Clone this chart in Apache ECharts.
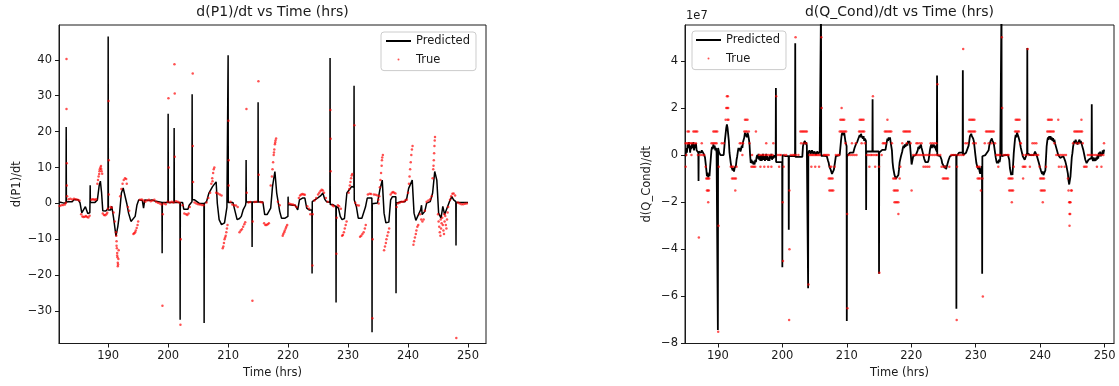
<!DOCTYPE html>
<html>
<head>
<meta charset="utf-8">
<script src="https://cdn.jsdelivr.net/npm/echarts@6.0.0/dist/echarts.min.js"></script>
<style>html,body{margin:0;padding:0;background:#fff;}#c{width:1119px;height:386px;}</style>
</head>
<body>
<div id="c"></div>
<script>
// ---------- tick labels ----------
const p1XTicks = [190, 200, 210, 220, 230, 240, 250];
const p1YTicks = [-30, -20, -10, 0, 10, 20, 30, 40];
const qXTicks = [190, 200, 210, 220, 230, 240, 250];
const qYTicks = [-8, -6, -4, -2, 0, 2, 4]; // in units of 1e7

// ---------- d(P1)/dt : predicted line [time, value] ----------
const p1Predicted = [
[181.8,0.4],[182.2,0.3],[182.6,0.1],[182.97,0.1],[183.0,21.3],[183.03,0.4],[183.4,0.5],[184.0,0.5],[184.3,1.1],[185.0,1.0],[185.3,0.2],[185.6,-2.6],[185.9,-2.5],[186.2,-0.9],[186.6,-2.8],[186.94,-2.6],[186.97,0.2],[187.0,5.1],[187.03,0.3],[187.8,0.3],[188.2,1.0],[188.5,5.0],[188.7,6.2],[188.9,3.0],[189.1,-2.0],[189.6,-2.1],[189.97,-1.5],[190.0,46.5],[190.03,-1.8],[190.4,-1.8],[190.6,-0.8],[190.9,-4.0],[191.3,-9.1],[191.6,-6.5],[191.9,-2.7],[192.2,2.9],[192.5,4.3],[192.8,4.7],[193.1,0.0],[193.4,-2.7],[193.8,-5.0],[194.1,-5.0],[194.5,-3.6],[194.8,-0.4],[195.1,1.0],[195.7,0.8],[195.9,-1.3],[196.1,1.0],[196.8,0.8],[197.3,1.0],[197.8,0.7],[198.4,0.5],[198.97,0.3],[199.0,-13.9],[199.03,0.3],[199.97,0.3],[200.0,25.0],[200.03,0.3],[200.97,0.3],[201.0,21.0],[201.03,0.3],[201.97,0.3],[202.0,-32.4],[202.03,0.3],[202.4,0.3],[202.6,-1.6],[203.3,-1.6],[203.5,-0.5],[203.97,0.5],[204.0,30.4],[204.03,1.0],[204.4,1.0],[204.8,0.5],[205.2,0.0],[205.97,0.0],[206.0,-33.3],[206.03,0.0],[206.4,0.5],[206.8,2.9],[207.4,4.7],[208.0,6.0],[208.2,0.0],[208.5,-4.5],[208.9,-5.9],[209.4,-5.4],[209.8,-1.0],[209.97,-0.8],[210.0,41.3],[210.03,0.3],[210.8,0.3],[211.1,-1.8],[211.5,-4.5],[211.9,-4.2],[212.2,-3.6],[212.5,-1.8],[212.9,-0.5],[212.97,0.3],[213.0,12.1],[213.03,0.4],[213.97,0.4],[214.0,-12.1],[214.03,0.4],[214.97,0.4],[215.0,28.2],[215.03,0.4],[215.8,0.4],[216.1,-3.1],[216.5,-3.1],[216.8,-2.7],[217.1,-1.3],[217.4,4.7],[217.8,8.9],[218.1,2.9],[218.6,-2.2],[218.9,-4.1],[219.5,-4.1],[219.97,-3.6],[220.0,1.9],[220.03,-0.3],[220.8,-0.5],[221.2,-0.5],[221.6,-1.8],[221.9,1.0],[222.4,1.5],[222.8,1.5],[223.1,-1.3],[223.5,-1.8],[223.97,-1.8],[224.0,-19.5],[224.03,0.5],[224.9,1.5],[225.4,2.1],[225.8,2.9],[226.1,1.2],[226.4,0.5],[226.97,0.3],[227.0,40.5],[227.03,-0.3],[227.4,-0.3],[227.97,-0.8],[228.0,-27.6],[228.03,-0.8],[228.4,-1.3],[228.7,-3.6],[229.0,-4.5],[229.4,-4.2],[229.8,2.9],[230.2,3.8],[230.6,4.7],[230.97,4.5],[231.0,32.8],[231.03,1.0],[231.4,-1.0],[231.7,-4.1],[232.3,-4.1],[232.6,-3.6],[232.9,-1.0],[233.2,1.5],[233.97,1.5],[234.0,-35.9],[234.03,-0.1],[234.9,0.1],[235.3,3.8],[235.7,6.5],[236.0,-2.7],[236.3,-5.4],[236.8,-5.2],[237.1,1.0],[237.4,1.9],[237.97,1.9],[238.0,-25.0],[238.03,0.1],[238.8,0.5],[239.5,0.5],[239.8,1.5],[240.1,4.2],[240.7,6.5],[241.0,-2.7],[241.3,-4.7],[241.6,-4.5],[242.1,-1.8],[242.25,-0.5],[242.35,-3.1],[242.8,-2.2],[243.1,0.1],[243.7,0.5],[244.1,2.9],[244.45,8.9],[244.8,6.5],[245.1,-2.7],[245.5,-4.1],[245.8,-0.8],[246.1,-3.1],[246.4,-2.7],[246.9,0.5],[247.3,1.9],[247.6,1.0],[247.97,0.5],[248.0,-11.7],[248.03,0.3],[249.0,0.3],[250.0,0.3]
];

// ---------- d(P1)/dt : true values [time, value] ----------
const p1True = [
[181.6,-0.6],[181.9,-0.7],[182.2,-0.5],[182.5,-0.4],[182.8,-0.3],[182.95,0.2],
[183.05,40.2],[183.05,26.3],[183.1,11.2],[183.1,5.0],[183.15,2.0],
[183.4,1.2],[183.7,1.3],[184.0,1.1],[184.3,1.3],[184.6,1.2],[184.9,1.0],[185.2,0.8],
[185.5,-3.0],[185.7,-3.6],[185.9,-3.8],[186.1,-3.7],[186.3,-3.5],[186.5,-3.8],[186.7,-3.9],[186.9,-3.4],
[187.2,1.0],[187.4,1.2],[187.6,1.1],[187.8,1.0],[188.0,1.2],
[188.2,5.5],[188.3,6.5],[188.4,7.5],[188.5,8.2],[188.55,9.0],[188.6,9.5],[188.7,10.0],[188.8,10.4],[188.85,9.6],[188.9,9.0],[189.0,8.3],
[189.1,-2.8],[189.3,-3.2],[189.5,-3.3],[189.7,-3.0],[189.85,-2.6],[189.95,-1.5],
[190.05,28.5],[190.1,12.0],[190.1,2.5],
[190.4,-1.0],[190.6,-1.2],[190.9,-2.5],[191.1,-5.0],
[191.3,-8.0],[191.35,-9.0],[191.4,-10.5],[191.4,-11.8],[191.45,-12.5],[191.5,-13.8],[191.5,-14.5],[191.55,-15.0],[191.6,-16.5],[191.6,-17.5],[191.65,-17.0],[191.7,-15.5],[191.75,-13.0],
[192.0,2.0],[192.2,4.0],[192.4,5.5],[192.6,6.5],[192.8,7.0],[193.0,6.8],[193.1,5.5],
[193.3,-1.0],[193.5,-2.0],
[194.2,-8.5],[194.35,-8.3],[194.5,-8.0],[194.6,-7.5],[194.75,-6.8],[194.9,-6.0],[195.0,-5.0],
[195.3,1.0],[195.6,1.1],[195.9,0.8],[196.2,0.5],[196.5,0.8],[196.8,1.0],[197.1,0.6],[197.4,0.8],[197.7,1.0],[198.0,0.4],[198.3,0.2],[198.6,0.0],[198.9,-0.3],
[199.05,-28.5],[199.1,-3.0],
[199.3,0.0],[199.6,-0.2],[199.9,0.5],[200.05,29.3],[200.1,10.0],[200.3,0.3],[200.6,0.5],[200.9,0.3],[201.05,38.8],[201.1,30.6],[201.1,13.0],[201.3,0.6],[201.6,0.5],[201.9,0.2],
[202.05,-33.8],[202.1,-10.0],
[202.4,-0.5],[202.7,-2.8],[203.0,-3.0],[203.2,-3.2],[203.4,-2.8],[203.6,-1.0],
[204.1,36.2],[204.1,16.0],[204.15,6.0],
[204.4,0.3],[204.7,0.0],[205.0,-0.2],[205.3,-0.3],[205.6,-0.4],[205.9,-0.5],
[206.4,0.3],[206.7,1.5],[207.0,3.0],[207.2,5.5],[207.35,7.0],[207.4,6.2],[207.5,8.5],[207.6,9.5],[207.7,10.0],
[208.0,3.0],[208.3,2.8],[208.6,2.5],[208.9,2.2],
[209.1,-12.5],[209.2,-12.0],[209.3,-11.0],[209.4,-10.0],[209.5,-9.5],[209.6,-9.0],[209.7,-8.0],[209.8,-7.0],[209.9,-6.0],
[210.05,23.0],[210.1,12.0],[210.1,5.0],
[210.4,0.5],[210.7,-0.3],[211.0,-0.5],[211.3,-0.6],[211.6,-1.0],
[211.9,-8.0],[212.1,-7.5],[212.3,-7.2],[212.5,-6.5],[212.7,-5.8],[212.85,-5.2],
[213.05,26.3],[213.1,3.0],
[213.4,0.3],[213.7,0.4],[214.05,-27.1],[214.1,-5.0],
[214.4,0.4],[214.7,0.5],[215.05,34.0],[215.1,8.0],
[215.4,0.4],[215.7,0.3],[216.0,-5.5],[216.2,-6.0],[216.4,-6.0],[216.6,-5.8],[216.8,-5.5],
[217.1,5.0],[217.3,7.5],[217.4,9.5],[217.5,11.5],[217.6,13.5],[217.65,14.2],[217.7,15.0],[217.8,16.5],[217.85,17.0],[217.9,17.5],[218.0,18.1],
[218.3,0.5],[218.6,-0.5],
[219.1,-9.0],[219.2,-8.5],[219.35,-8.0],[219.45,-7.5],[219.6,-7.0],[219.7,-6.5],[219.85,-6.0],
[220.2,0.0],[220.5,-0.2],[220.8,-0.3],[221.1,-0.5],[221.4,-1.0],
[221.8,1.5],[222.0,2.2],[222.2,2.5],[222.4,2.6],[222.6,2.5],[222.8,2.4],
[223.2,-0.8],[223.5,-1.5],[223.7,-3.0],
[224.05,-17.3],[224.1,-3.0],
[224.4,0.8],[224.7,1.5],[225.0,2.5],[225.2,3.0],[225.4,3.5],[225.6,3.8],[225.8,3.6],[226.0,3.0],[226.3,1.5],
[226.6,0.5],[227.05,26.0],[227.1,18.0],[227.1,9.0],
[227.4,-0.5],[227.6,-0.8],[228.05,-14.0],[228.1,-4.0],[228.3,-0.5],[228.5,-0.8],[228.8,-1.5],
[229.0,-9.0],[229.15,-8.8],[229.3,-8.0],[229.45,-7.0],[229.6,-6.0],[229.75,-5.0],
[230.1,3.0],[230.2,4.0],[230.3,5.0],[230.4,6.0],[230.5,7.0],[230.6,7.8],[230.7,8.2],[231.05,21.8],
[231.2,0.2],[231.5,-0.5],[231.8,-0.6],
[232.0,-9.3],[232.2,-9.0],[232.4,-8.5],[232.6,-8.0],[232.8,-7.0],[232.95,-6.0],
[233.3,2.5],[233.6,2.7],[233.85,2.6],
[234.05,-32.0],[234.1,-10.0],
[234.3,2.5],[234.6,2.4],[234.9,2.2],[235.05,1.0],
[235.1,0.0],[235.2,2.0],[235.3,4.5],[235.4,6.5],[235.5,8.5],[235.6,10.5],[235.65,12.0],[235.7,12.8],[235.8,13.5],
[236.0,-13.0],[236.15,-12.0],[236.3,-11.0],[236.4,-10.0],[236.55,-9.0],[236.7,-8.0],[236.85,-7.0],
[237.1,2.5],[237.3,3.0],[237.5,3.2],[237.7,3.0],[237.9,2.8],
[238.1,-1.0],[238.3,0.0],[238.6,0.2],[238.9,0.5],[239.2,0.5],[239.5,0.8],[239.8,1.0],
[240.0,3.0],[240.15,5.5],[240.25,7.5],[240.35,9.5],[240.45,11.5],[240.55,13.5],[240.65,15.0],[240.75,16.0],
[240.9,-11.5],[241.0,-10.5],[241.15,-9.5],[241.3,-8.5],[241.4,-7.5],[241.55,-6.5],[241.7,-6.0],
[242.0,-3.0],[242.2,-4.5],[242.4,-5.0],[242.6,-4.5],[242.8,-2.0],
[243.1,0.5],[243.4,0.8],[243.7,1.2],[243.95,2.0],
[244.1,7.0],[244.2,9.5],[244.25,10.5],[244.3,12.0],[244.35,14.0],[244.4,16.0],[244.45,17.5],[244.5,18.5],
[245.0,-3.0],[245.1,-5.0],[245.2,-6.5],[245.3,-8.0],[245.4,-9.0],[245.45,-4.5],[245.5,-7.0],[245.6,-5.5],[245.7,-4.0],[245.8,-6.0],[245.9,-7.5],[246.0,-8.5],[246.05,-3.0],[246.1,-5.0],[246.2,-3.5],[246.3,-6.0],[246.4,-7.0],[246.5,-4.5],[246.6,-2.5],[246.7,-1.0],
[247.0,1.0],[247.2,2.0],[247.4,2.7],[247.6,2.8],[247.85,2.2],
[248.05,-37.5],
[248.3,0.3],[248.6,0.0],[248.9,-0.2],[249.2,-0.2],[249.5,-0.1],[249.8,0.0]
];

// ---------- d(Q_Cond)/dt (units of 1e7) : predicted line ----------
const qPredicted = [
[185.0,-0.05],[185.1,0.3],[185.2,0.1],[185.3,0.45],[185.4,0.3],[185.5,0.55],[185.6,0.35],[185.7,0.1],[185.8,0.4],[185.9,0.25],[186.0,0.5],[186.1,0.3],[186.2,0.55],[186.3,0.2],[186.4,0.45],[186.5,0.3],[186.6,0.5],[186.7,0.2],[186.8,0.15],[186.97,0.1],[187.0,-1.1],[187.03,0.15],[187.2,0.1],[187.3,0.2],[187.4,0.1],[187.5,0.2],[187.6,0.15],[187.7,0.2],[187.8,0.05],[187.9,0.1],[188.0,-0.1],[188.1,-0.34],[188.2,-0.6],[188.3,-0.9],[188.4,-0.75],[188.5,-0.95],[188.6,-0.8],[188.7,-0.9],[188.8,-0.5],[189.0,0.2],[189.1,0.35],[189.2,0.25],[189.3,0.45],[189.4,0.3],[189.5,0.4],[189.6,0.2],[189.7,0.3],[189.8,0.1],[189.97,0.15],[190.0,-7.43],[190.03,0.3],[190.2,0.1],[190.4,0.0],[190.6,0.05],[190.9,0.0],[191.1,0.65],[191.2,0.9],[191.3,1.15],[191.4,1.3],[191.5,1.15],[191.6,1.1],[191.7,0.6],[191.8,0.1],[192.0,-0.34],[192.1,-0.5],[192.2,-0.45],[192.3,-0.65],[192.4,-0.55],[192.5,-0.7],[192.6,-0.55],[192.7,-0.6],[192.8,-0.45],[192.9,-0.2],[193.0,-0.05],[193.1,0.15],[193.2,0.3],[193.3,0.2],[193.4,0.3],[193.5,0.15],[193.6,0.25],[193.7,0.4],[193.8,0.3],[193.9,0.55],[194.0,0.6],[194.1,0.75],[194.2,0.95],[194.3,0.8],[194.4,0.9],[194.5,0.75],[194.6,0.95],[194.7,0.85],[194.8,0.7],[194.9,0.5],[195.0,0.0],[195.1,-0.34],[195.2,-0.2],[195.3,-0.35],[195.4,-0.25],[195.5,-0.4],[195.6,-0.3],[195.7,-0.4],[195.8,-0.2],[195.9,-0.3],[196.0,-0.1],[196.1,0.0],[196.2,-0.15],[196.3,0.05],[196.4,-0.2],[196.5,-0.05],[196.6,-0.25],[196.7,0.0],[196.8,-0.25],[196.9,-0.1],[197.0,0.05],[197.1,-0.2],[197.2,-0.05],[197.3,-0.25],[197.4,-0.1],[197.5,0.05],[197.6,-0.2],[197.7,-0.05],[197.8,-0.25],[197.9,-0.1],[198.0,-0.25],[198.1,0.0],[198.2,-0.15],[198.3,0.05],[198.4,-0.2],[198.5,-0.05],[198.6,-0.15],[198.7,0.0],[198.8,-0.1],[198.97,0.0],[199.0,2.85],[199.03,-0.3],[199.5,-0.3],[199.97,-0.3],[200.0,-4.76],[200.03,0.0],[200.5,-0.05],[200.97,-0.05],[201.0,-3.17],[201.03,-0.05],[201.5,-0.05],[201.97,-0.05],[202.0,4.75],[202.03,-0.08],[202.7,-0.08],[203.1,-0.08],[203.2,0.37],[203.3,0.5],[203.4,0.45],[203.5,0.6],[203.6,0.45],[203.7,0.55],[203.8,0.4],[203.97,0.4],[204.0,-5.65],[204.03,0.1],[204.2,0.2],[204.4,0.05],[204.6,0.2],[204.8,0.05],[205.0,0.15],[205.2,0.0],[205.4,0.15],[205.6,0.05],[205.8,0.15],[205.97,0.1],[206.0,6.5],[206.03,-0.03],[206.5,-0.03],[206.9,-0.05],[207.1,-0.25],[207.2,-0.34],[207.3,-0.5],[207.4,-0.45],[207.5,-0.62],[207.6,-0.7],[207.7,-0.8],[207.8,-0.83],[207.9,-0.75],[208.0,-0.62],[208.2,-0.25],[208.3,-0.05],[208.9,0.0],[209.0,0.3],[209.1,0.6],[209.2,0.85],[209.3,0.95],[209.4,1.0],[209.5,0.85],[209.6,0.95],[209.7,0.75],[209.8,0.55],[209.97,0.37],[210.0,-7.05],[210.03,-0.05],[210.5,0.1],[210.8,0.1],[211.0,0.1],[211.1,0.15],[211.2,0.3],[211.3,0.25],[211.4,0.45],[211.5,0.4],[211.6,0.55],[211.7,0.5],[211.8,0.7],[211.9,0.65],[212.0,0.85],[212.1,0.75],[212.2,0.9],[212.3,0.8],[212.4,0.85],[212.5,0.7],[212.6,0.8],[212.7,0.6],[212.8,0.7],[212.97,0.6],[213.0,-2.33],[213.03,0.15],[213.5,0.15],[213.97,0.15],[214.0,2.37],[214.03,0.15],[214.6,0.15],[214.97,0.15],[215.0,-5.04],[215.03,0.1],[215.5,0.22],[216.0,0.22],[216.1,0.3],[216.2,0.55],[216.3,0.7],[216.4,0.6],[216.5,0.75],[216.6,0.65],[216.7,0.75],[216.8,0.55],[216.9,0.6],[217.0,0.2],[217.1,-0.3],[217.2,-0.55],[217.3,-0.7],[217.4,-0.85],[217.5,-0.8],[217.6,-1.0],[217.7,-1.05],[217.8,-0.95],[217.9,-1.05],[218.0,-0.85],[218.1,-0.6],[218.2,-0.3],[218.4,-0.05],[218.6,0.15],[218.7,0.3],[218.8,0.4],[218.9,0.3],[219.0,0.45],[219.1,0.35],[219.2,0.4],[219.3,0.5],[219.4,0.4],[219.5,0.6],[219.6,0.5],[219.7,0.6],[219.8,0.45],[219.9,0.5],[220.05,-0.4],[220.1,-0.35],[220.3,-0.05],[220.7,0.0],[221.0,0.2],[221.1,0.35],[221.2,0.25],[221.3,0.4],[221.4,0.3],[221.5,0.45],[221.6,0.3],[221.7,0.2],[221.8,0.08],[222.0,-0.15],[222.1,-0.2],[222.2,-0.3],[222.3,-0.25],[222.4,-0.34],[222.5,-0.25],[222.6,-0.3],[222.7,-0.2],[222.9,0.22],[223.0,0.35],[223.1,0.45],[223.2,0.3],[223.3,0.45],[223.4,0.35],[223.5,0.45],[223.6,0.3],[223.7,0.4],[223.8,0.25],[223.97,0.15],[224.0,3.38],[224.03,0.0],[224.5,-0.05],[224.7,-0.2],[224.8,-0.35],[224.9,-0.3],[225.0,-0.45],[225.1,-0.4],[225.2,-0.55],[225.3,-0.45],[225.4,-0.6],[225.5,-0.5],[225.6,-0.45],[225.7,-0.3],[225.8,-0.2],[226.0,-0.05],[226.4,0.0],[226.97,0.0],[227.0,-6.52],[227.03,-0.05],[227.4,0.1],[227.97,0.1],[228.0,3.6],[228.03,0.0],[228.5,0.1],[228.7,0.1],[228.9,0.4],[229.0,0.6],[229.1,0.8],[229.2,0.75],[229.3,0.9],[229.4,0.8],[229.5,0.85],[229.6,0.7],[229.7,0.6],[229.8,0.37],[229.95,0.0],[230.1,-0.34],[230.2,-0.45],[230.3,-0.4],[230.4,-0.6],[230.5,-0.5],[230.6,-0.7],[230.7,-0.8],[230.8,-0.6],[230.97,-0.48],[231.0,-5.04],[231.03,-0.05],[231.5,0.0],[231.8,0.0],[232.0,0.2],[232.1,0.4],[232.2,0.5],[232.3,0.6],[232.4,0.55],[232.5,0.7],[232.6,0.6],[232.7,0.65],[232.8,0.5],[232.9,0.45],[233.0,0.1],[233.1,-0.1],[233.2,-0.25],[233.3,-0.35],[233.4,-0.25],[233.5,-0.35],[233.6,-0.2],[233.7,-0.3],[233.8,-0.15],[233.97,-0.2],[234.0,6.5],[234.03,-0.05],[234.5,0.0],[235.0,0.0],[235.2,-0.2],[235.3,-0.55],[235.4,-0.7],[235.5,-0.85],[235.6,-0.75],[235.7,-0.85],[235.8,-0.4],[235.9,0.08],[236.0,0.4],[236.1,0.7],[236.2,0.85],[236.3,0.75],[236.4,0.95],[236.5,0.9],[236.6,0.8],[236.7,0.85],[236.8,0.6],[236.9,0.45],[237.0,0.3],[237.3,-0.05],[237.6,-0.2],[237.97,0.08],[238.0,4.54],[238.03,0.08],[238.4,0.0],[239.0,0.0],[239.2,0.15],[239.5,-0.05],[239.8,-0.34],[239.9,-0.4],[240.0,-0.55],[240.1,-0.65],[240.2,-0.6],[240.3,-0.8],[240.4,-0.7],[240.5,-0.85],[240.6,-0.8],[240.7,-0.9],[240.8,-0.65],[241.0,0.37],[241.1,0.6],[241.2,0.75],[241.3,0.65],[241.4,0.8],[241.5,0.7],[241.6,0.8],[241.7,0.65],[241.8,0.75],[241.9,0.6],[242.0,0.72],[242.1,0.55],[242.2,0.65],[242.3,0.5],[242.4,0.4],[242.5,0.37],[242.8,0.0],[243.1,-0.12],[243.4,-0.12],[243.6,-0.05],[243.9,-0.27],[244.0,-0.35],[244.1,-0.5],[244.2,-0.65],[244.3,-0.8],[244.4,-1.1],[244.5,-1.25],[244.6,-1.2],[244.7,-0.9],[244.8,-0.5],[244.9,-0.1],[245.0,0.08],[245.1,0.35],[245.2,0.5],[245.3,0.6],[245.4,0.5],[245.5,0.65],[245.6,0.55],[245.7,0.6],[245.8,0.45],[245.9,0.55],[246.0,0.6],[246.1,0.65],[246.2,0.5],[246.3,0.6],[246.4,0.5],[246.5,0.4],[246.6,0.3],[246.7,0.2],[247.0,-0.2],[247.2,-0.34],[247.5,-0.2],[247.97,-0.12],[248.0,2.16],[248.03,-0.12],[248.2,-0.25],[248.3,-0.1],[248.4,-0.25],[248.5,-0.15],[248.6,-0.25],[248.7,-0.1],[248.8,-0.2],[248.9,0.0],[249.0,-0.15],[249.1,0.1],[249.2,-0.05],[249.3,0.15],[249.4,-0.05],[249.5,0.1],[249.6,0.0],[249.7,0.2],[249.8,0.05],[249.9,0.2],[250.0,0.22]
];

// ---------- d(Q_Cond)/dt (units of 1e7) : true values ----------
const qTrue = [
[185.0,0.5],[185.2,0.5],[185.4,0.5],[185.6,0.5],[185.8,0.5],[186.0,0.5],[186.3,0.5],[186.6,0.5],
[185.3,1.0],[185.5,1.0],[186.2,1.0],[186.4,1.0],[186.6,1.0],[186.8,1.0],
[185.1,0],[185.9,0],[186.9,0],[185.0,-0.5],
[187.05,-3.5],
[187.3,0],[187.6,0],[187.9,0],[187.5,0.5],
[188.1,-0.5],[188.2,-1.0],[188.35,-1.0],[188.5,-1.0],[188.3,-1.5],[188.45,-1.5],[188.6,-1.5],[188.5,-2.0],[188.65,-1.0],
[189.0,0.5],[189.2,0.5],[189.4,0.5],[189.6,0.5],[189.8,0.5],[189.3,1.0],[189.5,1.0],[189.7,1.0],[189.9,1.0],
[190.05,-7.5],[190.1,-3.0],[190.15,-0.5],
[190.6,0.5],[190.9,0.5],[191.2,1.5],[191.3,2.0],[191.45,2.0],[191.4,2.5],[191.55,2.5],[191.5,1.5],[191.65,1.5],[191.6,2.0],
[192.0,-0.5],[192.2,-0.5],[192.4,-0.5],[192.2,-1.0],[192.4,-1.0],[192.6,-1.0],[192.8,-1.0],[192.7,-1.5],[192.9,-0.5],
[193.4,0.5],[193.6,0.5],[193.9,0.5],[193.8,0],[194.1,1.0],[194.3,1.0],[194.5,1.0],[194.8,1.0],[194.2,1.5],[194.4,1.5],[194.6,1.5],[194.9,0.5],
[195.2,-0.5],[195.4,-0.5],[195.6,-0.5],[195.8,-0.5],[195.3,0],[195.9,1.0],
[196.4,0],[196.7,0],[197.0,0],[197.3,0],[197.6,0],[197.9,0],[198.2,0],[198.5,0],[196.6,-0.5],[197.2,-0.5],[197.8,-0.5],[198.3,-0.5],[198.6,0.5],[197.5,0.5],
[199.05,2.5],[199.3,0],[199.6,0],[199.5,-0.5],[199.8,0],
[200.05,-2.0],[200.1,-4.5],[200.3,0],[200.6,0],[200.2,-0.5],
[201.1,-4.0],[201.05,-7.0],[201.1,-1.5],[201.3,0],[201.6,0],[201.8,0],
[202.05,5.0],[202.1,0],
[202.8,1.0],[203.0,1.0],[203.2,1.0],[203.4,1.0],[203.6,1.0],[203.8,1.0],[202.9,0.5],[203.3,0.5],[203.7,0.5],[202.5,0],
[204.05,-5.5],[204.2,0],
[204.4,0],[204.6,0],[204.8,0],[205.0,0],[205.2,0],[205.4,0],[205.6,0],[205.8,0],[204.5,-0.5],[205.1,-0.5],[205.7,-0.5],
[206.05,5.0],[206.1,2.0],
[206.4,0],[206.6,0],[206.8,0],[207.0,0],[207.2,0],[207.4,-0.5],[207.6,-0.5],[207.2,-1.0],[207.4,-1.0],[207.6,-1.0],[207.8,-1.0],[207.3,-1.5],[207.5,-1.5],[207.7,-1.5],[207.9,-1.5],[208.1,-0.5],[208.3,0],[208.6,0],[208.8,0],
[209.2,2.0],[209.0,1.5],[209.2,1.5],[209.4,1.5],[209.6,1.5],[208.9,1.0],[209.1,1.0],[209.3,1.0],[209.5,1.0],[209.7,1.0],[209.9,1.0],[209.8,0.5],
[210.1,-6.5],[210.05,-2.5],[210.3,0],
[210.6,0],[210.9,0],[211.2,0],[211.5,0],[210.8,0.5],[211.4,0.5],
[211.9,1.0],[212.1,1.0],[212.3,1.0],[212.5,1.0],[212.7,1.0],[212.0,1.5],[212.2,1.5],[212.4,1.5],[212.6,1.5],[212.3,0.5],[212.8,0.5],
[213.1,0],[213.4,0],[213.7,0],[213.9,0],[214.2,0],[214.5,0],[214.7,0],[213.5,-0.5],[214.4,-0.5],
[214.05,2.5],[215.05,-5.0],[215.0,-0.5],
[215.4,0],[215.6,0.5],[215.9,1.0],[216.1,1.0],[216.3,1.0],[216.5,1.0],[216.7,1.0],[216.9,1.0],[216.3,1.5],[215.8,0.5],[216.0,0.5],[217.0,0.5],
[217.2,-1.0],[217.4,-1.0],[217.6,-1.0],[217.3,-1.5],[217.5,-1.5],[217.7,-1.5],[217.9,-1.5],[217.4,-2.0],[217.6,-2.0],[217.8,-2.0],[218.0,-2.0],[218.0,-2.5],[218.2,-1.0],[218.3,-0.5],
[218.6,0.5],[218.8,1.0],[219.0,1.0],[219.2,1.0],[219.4,1.0],[219.6,1.0],[219.8,1.0],[219.3,0.5],[219.9,0.5],
[220.05,-1.5],
[220.3,0],[220.6,0],[220.9,0],[221.2,0],[221.5,0],[221.8,0],[222.1,0],[222.4,0],[222.7,0],[223.0,0],[223.3,0],[223.6,0],[223.9,0],[220.8,0.5],[221.0,0.5],[221.3,0.5],[221.6,0.5],[221.9,-0.5],[222.2,-0.5],[222.5,-0.5],[222.8,-0.5],[223.0,0.5],[223.3,0.5],[223.6,0.5],[223.9,0.5],
[224.05,3.0],[224.2,0],
[224.5,0],[224.7,-0.5],[225.0,-0.5],[225.3,-0.5],[224.9,-1.0],[225.1,-1.0],[225.3,-1.0],[225.5,-1.0],[225.7,-1.0],[225.9,-0.5],[226.2,0],
[227.05,-7.0],[227.1,-0.5],
[226.5,0],[226.8,0],[227.2,0],[227.5,0],[227.8,0],
[228.05,4.5],[228.1,0],
[228.4,0.5],[228.7,0.5],[228.9,1.0],[229.1,1.0],[229.3,1.0],[229.5,1.0],[229.7,1.0],[229.9,1.0],[229.0,1.5],[229.2,1.5],[229.4,1.5],[229.6,1.5],[229.8,1.5],[229.6,0.5],[230.0,0.5],
[230.2,-0.5],[230.4,-0.5],[230.6,-0.5],[230.3,-1.0],[230.5,-1.0],[230.7,-1.0],[230.8,-1.5],
[231.1,-6.0],[231.05,-1.0],
[231.4,0.5],[231.6,1.0],[231.8,1.0],[232.0,1.0],[232.2,1.0],[232.4,1.0],[232.6,1.0],[232.8,1.0],[232.0,0.5],[232.5,0.5],[233.0,0.5],
[233.2,0],[233.4,0],[233.6,0],[233.8,0],[233.5,-0.5],
[234.05,5.0],[234.1,2.0],
[234.3,0],[234.6,0],[234.9,0],[235.1,0],
[235.1,-1.0],[235.3,-1.0],[235.5,-1.0],[235.7,-1.0],[235.2,-1.5],[235.4,-1.5],[235.6,-1.5],[235.8,-1.5],[235.6,-2.0],[235.9,-0.5],
[236.1,1.0],[236.2,1.5],[236.4,1.5],[236.6,1.5],[236.8,1.5],[236.3,1.0],[236.5,1.0],[236.7,1.0],[236.9,0.5],[237.0,0.5],
[237.3,-0.5],[237.5,-0.5],[237.7,-0.5],[237.4,0],[237.8,0],[237.35,-1.0],[238.05,4.5],[238.2,0],[238.4,-0.5],
[238.6,0],[238.9,0],[239.2,0],[239.5,0],[238.8,0.5],[239.1,0.5],[239.4,0.5],[239.7,0],
[239.9,-0.5],[240.0,-1.0],[240.2,-1.0],[240.4,-1.0],[240.6,-1.0],[240.1,-1.5],[240.3,-1.5],[240.5,-1.5],[240.7,-1.5],[240.4,-2.0],[240.9,-0.5],
[241.1,1.0],[241.3,1.0],[241.5,1.0],[241.7,1.0],[241.9,1.0],[242.1,1.0],[241.2,1.5],[241.4,1.5],[241.6,1.5],[241.8,1.5],[242.2,0.5],
[242.8,1.5],
[242.5,0],[242.8,0],[243.1,0],[243.4,0],[243.7,0],[244.0,0],[242.9,-0.5],[243.3,-0.5],[243.8,-0.5],
[244.3,-1.0],[244.4,-1.5],[244.5,-2.0],[244.6,-2.0],[244.7,-2.0],[244.55,-2.5],[244.65,-2.5],[244.55,-3.0],[244.8,-1.5],[244.9,-1.5],
[245.1,0.5],[245.3,1.0],[245.5,1.0],[245.7,1.0],[245.9,1.0],[246.1,1.0],[246.3,1.0],[246.5,1.0],[246.4,1.5],[245.6,0.5],[246.0,0.5],[246.6,0.5],
[246.8,-0.5],[247.0,-0.5],[247.2,-0.5],[247.4,0],[247.7,0],[248.0,0],
[248.3,0],[248.6,0],[248.9,0],[249.2,0],[249.5,0],[249.8,0],[249.5,-0.5],[248.8,-0.5],[249.9,0.5]
];

// ---------- chart ----------
const FONT = 'DejaVu Sans';
const INK = '#1a1a1a';
const fmt = v => (v < 0 ? '\u2212' + Math.abs(v) : String(v));

function xAxisFor(gridIndex, min, max, ticks) {
  return {
    type: 'value', gridIndex, min, max,
    name: 'Time (hrs)', nameLocation: 'middle', nameGap: 23,
    nameTextStyle: { fontSize: 11.5, color: INK, fontFamily: FONT },
    axisLine: { show: true, onZero: false, lineStyle: { color: INK, width: 1 } },
    axisTick: { show: true, length: 4, lineStyle: { color: INK }, customValues: ticks },
    axisLabel: { fontSize: 11.5, color: INK, fontFamily: FONT, margin: 7, formatter: fmt, customValues: ticks },
    splitLine: { show: false }
  };
}
function yAxisFor(gridIndex, min, max, ticks, name, gap) {
  return {
    type: 'value', gridIndex, min, max,
    name, nameLocation: 'middle', nameGap: gap,
    nameTextStyle: { fontSize: 11.5, color: INK, fontFamily: FONT },
    axisLine: { show: true, onZero: false, lineStyle: { color: INK, width: 1 } },
    axisTick: { show: true, length: 4, lineStyle: { color: INK }, customValues: ticks },
    axisLabel: { fontSize: 11.5, color: INK, fontFamily: FONT, margin: 7, formatter: fmt, customValues: ticks },
    splitLine: { show: false }
  };
}
function legendAt(left, top, textGap, pad) {
  return {
    left, top, orient: 'vertical', selectedMode: false,
    data: [{ name: 'Predicted' }, { name: 'True', icon: 'circle' }],
    itemWidth: 25, itemHeight: 2, itemGap: 6.6, itemTextGap: textGap,
    padding: pad, borderColor: '#cccccc', borderWidth: 1, borderRadius: 3,
    backgroundColor: 'rgba(255,255,255,0.8)',
    textStyle: { fontSize: 11.5, color: INK, fontFamily: FONT, lineHeight: 12 }
  };
}

const chart = echarts.init(document.getElementById('c'), null, { renderer: 'canvas' });
chart.setOption({
  animation: false,
  backgroundColor: '#ffffff',
  textStyle: { fontFamily: FONT },
  grid: [
    { left: 59, top: 25, width: 427, height: 318.5, show: true, borderColor: INK, borderWidth: 1, backgroundColor: 'transparent' },
    { left: 685, top: 25, width: 429, height: 318.5, show: true, borderColor: INK, borderWidth: 1, backgroundColor: 'transparent' }
  ],
  xAxis: [xAxisFor(0, 181.8, 253.0, p1XTicks), xAxisFor(1, 184.9, 251.45, qXTicks)],
  yAxis: [
    yAxisFor(0, -39, 49.7, p1YTicks, 'd(P1)/dt', 36),
    yAxisFor(1, -8, 5.52, qYTicks, 'd(Q_Cond)/dt', 32)
  ],
  legend: [legendAt(381, 32, 9.3, [3, 6, 5, 4]), legendAt(692, 31, 10, [3, 6, 5, 3])],
  graphic: [
    { type: 'text', x: 272.5, y: 12, style: { text: 'd(P1)/dt vs Time (hrs)', fontSize: 14, fontFamily: FONT, fill: INK, align: 'center', verticalAlign: 'middle', textAlign: 'center', textVerticalAlign: 'middle' } },
    { type: 'text', x: 899.5, y: 12, style: { text: 'd(Q_Cond)/dt vs Time (hrs)', fontSize: 14, fontFamily: FONT, fill: INK, align: 'center', verticalAlign: 'middle', textAlign: 'center', textVerticalAlign: 'middle' } },
    { type: 'text', x: 686, y: 16, style: { text: '1e7', fontSize: 11.5, fontFamily: FONT, fill: INK, align: 'left', verticalAlign: 'middle', textAlign: 'left', textVerticalAlign: 'middle' } }
  ],
  series: [
    { type: 'line', name: 'Predicted', xAxisIndex: 0, yAxisIndex: 0, data: p1Predicted, symbol: 'none', showSymbol: false,
      lineStyle: { color: '#000', width: 1.5 }, itemStyle: { color: '#000' }, z: 2, clip: true },
    { type: 'scatter', name: 'True', xAxisIndex: 0, yAxisIndex: 0, data: p1True, symbolSize: 2.5,
      itemStyle: { color: 'rgba(255,0,0,0.85)' }, z: 3, clip: true },
    { type: 'line', name: 'Predicted', xAxisIndex: 1, yAxisIndex: 1, data: qPredicted, symbol: 'none', showSymbol: false,
      lineStyle: { color: '#000', width: 1.8 }, itemStyle: { color: '#000' }, z: 2, clip: true },
    { type: 'scatter', name: 'True', xAxisIndex: 1, yAxisIndex: 1, data: qTrue, symbolSize: 2.5,
      itemStyle: { color: 'rgba(255,0,0,0.85)' }, z: 3, clip: true }
  ]
});
</script>
</body>
</html>
